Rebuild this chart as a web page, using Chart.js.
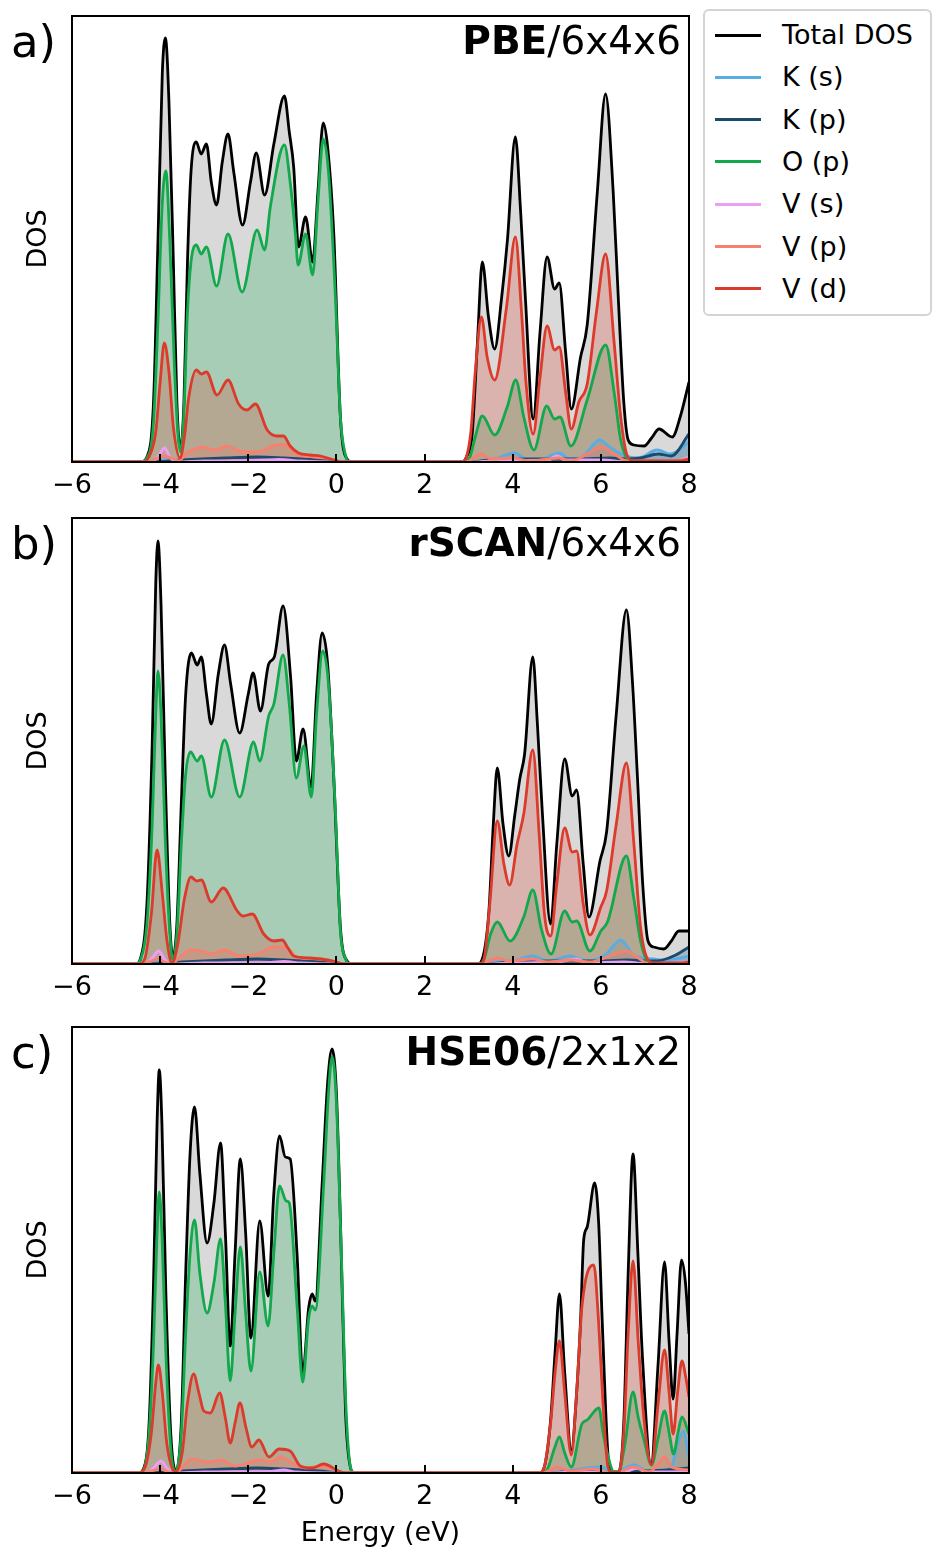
<!DOCTYPE html>
<html>
<head>
<meta charset="utf-8">
<script src="https://cdn.jsdelivr.net/npm/chart.js@4.4.1/dist/chart.umd.min.js"></script>
<style>
  body { margin: 0; background: #fff; width: 932px; height: 1551px; position: relative; overflow: hidden;
         font-family: 'DejaVu Sans', sans-serif; }
  canvas.panel { position: absolute; left: 0; }
  #legend { position: absolute; left: 703px; top: 9px; width: 229px; height: 307px; box-sizing: border-box;
            border: 2px solid #d4d4d4; border-radius: 6px; background: #fff; }
  .handle { position: absolute; left: 10px; width: 46px; height: 3px; }
  .ltext { position: absolute; left: 77px; height: 32px; line-height: 32px; font-size: 27px; color: #000; white-space: nowrap; }
</style>
</head>
<body>
<canvas id="pbe" class="panel" width="700" height="500" style="top:0px"></canvas>
<canvas id="scan" class="panel" width="700" height="500" style="top:502px"></canvas>
<canvas id="hse" class="panel" width="700" height="540" style="top:1011px"></canvas>
<div id="legend"></div>

<script>
// 系列名と色（凡例の順番）
const seriesNames = ['Total DOS', 'K (s)', 'K (p)', 'O (p)', 'V (s)', 'V (p)', 'V (d)'];
const seriesColors = ['#000000', '#5aade2', '#1b4a6b', '#12a84c', '#ee9ef6', '#f8806f', '#dc3b2b'];
const xTicks = [-6, -4, -2, 0, 2, 4, 6, 8];

// ---- a) PBE/6x4x6  [energy (eV), DOS] ----
const pbeTotal = [[-6,0],[-4.45,0],[-4.3,0.5],[-4.15,6],[-4.05,22],[-3.95,39],[-3.88,42.4],[-3.8,36],[-3.7,20],[-3.62,6],[-3.54,1.3],[-3.46,6],[-3.38,20],[-3.3,29],[-3.18,32.0],[-3.07,30.8],[-2.95,31.8],[-2.84,28],[-2.72,25.7],[-2.59,30],[-2.46,32.8],[-2.33,29],[-2.13,23.7],[-1.95,28],[-1.82,30.9],[-1.63,26.7],[-1.42,31.8],[-1.18,36.6],[-1.07,33],[-0.97,29.5],[-0.86,21.5],[-0.70,24.5],[-0.54,20.0],[-0.42,27],[-0.30,33.9],[-0.2,31.5],[-0.06,22.8],[0.09,4.5],[0.24,0.3],[0.35,0],
  [2.85,0],[2.95,0.5],[3.08,2.8],[3.2,12],[3.31,20.0],[3.45,14.5],[3.59,11.3],[3.75,16.5],[3.88,22.2],[4.06,32.5],[4.18,25],[4.29,16.2],[4.465,4.3],[4.62,13],[4.78,20.5],[4.95,17.3],[5.055,17.9],[5.2,11],[5.33,5.3],[5.54,10.5],[5.69,13.7],[5.92,27],[6.107,36.8],[6.28,27],[6.4,16],[6.52,6],[6.62,2.2],[6.75,1.7],[6.98,1.6],[7.15,2.4],[7.32,3.3],[7.62,2.5],[7.8,4.5],[8.0,8.0]];
const pbeKs = [[-6,0],[-4.2,0],[-3.9,0.2],[-3.5,0],[-2,0.1],[-1,0.15],[0,0],
  [3.0,0],[3.5,0.2],[4.05,0.9],[4.3,0.3],[4.6,0.2],[5.05,0.9],[5.3,0.3],[5.6,0.6],[5.97,2.2],[6.2,1.5],[6.51,0.7],[6.85,0.4],[7.28,1.2],[7.58,0.8],[8,2.0]];
const pbeKp = [[-6,0],[-4.2,0],[-3.5,0.2],[-2.5,0.4],[-1.8,0.5],[-1.2,0.4],[-0.4,0.2],[0.2,0],
  [3.0,0],[3.5,0.2],[4.5,0.3],[5.5,0.3],[6.2,0.4],[6.6,0.3],[6.9,0.4],[7.3,0.8],[7.6,0.6],[8,2.8]];
const pbeOp = [[-6,0],[-4.45,0],[-4.3,0.4],[-4.15,4],[-4.05,14],[-3.95,26],[-3.87,29.1],[-3.78,22],[-3.68,10],[-3.6,3],[-3.54,1.0],[-3.46,5],[-3.38,15],[-3.3,20],[-3.18,21.7],[-3.07,20.8],[-2.95,21.5],[-2.72,17.6],[-2.46,22.8],[-2.14,17.0],[-1.80,23.2],[-1.63,21.2],[-1.50,25.5],[-1.18,31.7],[-1.05,28],[-0.93,22.8],[-0.87,19.7],[-0.70,22.8],[-0.54,18.7],[-0.42,26],[-0.30,32.3],[-0.18,29],[-0.02,16.2],[0.09,4.5],[0.2,0.8],[0.3,0],
  [2.9,0],[3.03,0.5],[3.15,2.5],[3.31,4.6],[3.59,2.7],[3.875,5.5],[4.07,8.2],[4.25,4.5],[4.48,1.2],[4.77,5.6],[4.95,4.3],[5.07,4.5],[5.32,1.6],[5.69,6.2],[6.11,11.7],[6.3,7],[6.45,2.2],[6.6,0.3],[6.7,0],[8,0]];
const pbeVs = [[-6,0],[-4.2,0],[-4.05,0.5],[-3.9,1.4],[-3.78,0.5],[-3.65,0],[-3,0.1],[-1.8,0.15],[-1.3,0.25],[-0.8,0.1],[0,0],
  [3.1,0],[3.5,0.1],[4.0,0.15],[4.8,0.2],[5.0,0.6],[5.2,0.2],[6,0.2],[6.6,0],[7.7,0.1],[8,0.5]];
const pbeVp = [[-6,0],[-4.3,0],[-4.1,0.3],[-3.9,0.6],[-3.7,0.3],[-3.58,0.1],[-3.4,0.9],[-3.2,1.3],[-3.05,1.5],[-2.75,1.2],[-2.5,1.6],[-2.2,1.1],[-1.8,1.0],[-1.35,1.7],[-1.15,1.7],[-0.9,0.8],[-0.5,0.5],[-0.1,0.3],[0.15,0],
  [2.95,0],[3.1,0.4],[3.29,0.8],[3.5,0.3],[4.0,0.4],[4.4,0.1],[4.8,0.3],[5.05,0.4],[5.33,0.1],[5.69,0.8],[6.03,1.5],[6.3,0.8],[6.6,0.1],[7.5,0.1],[8,0.3]];
const pbeVd = [[-6,0],[-4.4,0],[-4.27,0.4],[-4.1,3],[-4.0,8],[-3.905,11.9],[-3.8,9],[-3.7,3.5],[-3.55,0.4],[-3.45,2.5],[-3.35,6.5],[-3.18,9.2],[-3.065,8.8],[-2.95,9.0],[-2.71,6.7],[-2.46,8.2],[-2.22,5.8],[-2.03,5.2],[-1.84,5.8],[-1.57,3.2],[-1.35,2.6],[-1.2,2.6],[-1.05,1.6],[-0.86,0.9],[-0.6,0.7],[-0.36,0.6],[-0.06,0.2],[0.1,0],
  [2.85,0],[2.95,0.5],[3.05,3],[3.15,9],[3.29,14.5],[3.42,10.5],[3.59,8.2],[3.86,15.5],[4.06,22.5],[4.2,15],[4.3,8],[4.465,2.8],[4.62,8.5],[4.78,13.6],[4.95,11.2],[5.055,11.5],[5.2,7],[5.33,3.3],[5.5,6],[5.69,7.8],[5.9,15],[6.107,20.8],[6.3,12],[6.45,4.5],[6.60,0.6],[6.75,0.1],[7.8,0.1],[8,0.3]];

// ---- b) rSCAN/6x4x6 ----
const scanTotal = [[-6,0],[-4.55,0],[-4.45,0.5],[-4.3,6],[-4.18,22],[-4.1,38],[-4.05,42.3],[-3.98,36],[-3.88,18],[-3.78,4],[-3.71,0.7],[-3.62,4],[-3.52,16],[-3.42,27],[-3.29,31.1],[-3.16,29.9],[-3.065,30.7],[-2.95,27],[-2.84,24.0],[-2.68,29],[-2.54,31.9],[-2.4,28],[-2.195,23.1],[-2.0,27],[-1.89,29.1],[-1.725,25.3],[-1.537,30.0],[-1.41,30.7],[-1.21,35.8],[-1.04,28.7],[-0.91,20.3],[-0.756,23.5],[-0.575,17.7],[-0.45,27],[-0.325,33.1],[-0.2,30],[-0.061,18.7],[0.09,3.7],[0.24,0.3],[0.35,0],
  [3.2,0],[3.31,0.5],[3.46,5.3],[3.56,14],[3.65,19.6],[3.78,14],[3.91,10.8],[4.05,15],[4.16,18.5],[4.27,21.0],[4.456,30.7],[4.56,24],[4.67,15.3],[4.86,4.0],[5.0,12],[5.18,20.5],[5.35,16.8],[5.45,17.4],[5.6,10],[5.73,4.7],[5.98,10.3],[6.13,13.2],[6.35,25],[6.58,35.4],[6.72,28],[6.83,18.7],[6.95,8],[7.07,2.3],[7.2,1.7],[7.43,1.5],[7.6,2.3],[7.77,3.3],[8,3.3]];
const scanKs = [[-6,0],[-4.3,0],[-4.05,0.2],[-3.7,0],[-2,0.1],[-1,0.15],[0,0],
  [3.3,0],[3.7,0.2],[4.0,0.3],[4.46,0.8],[4.8,0.3],[5.3,0.8],[5.7,0.3],[6.1,0.9],[6.45,2.4],[6.75,0.9],[7.2,0.5],[7.45,0.4],[7.8,0.6],[8,0.8]];
const scanKp = [[-6,0],[-4.3,0],[-3.5,0.2],[-2.5,0.4],[-1.8,0.5],[-1.2,0.4],[-0.4,0.2],[0.2,0],
  [3.3,0],[4,0.2],[5,0.3],[6,0.3],[6.6,0.4],[7.1,0.3],[7.4,0.4],[7.7,0.9],[8,1.7]];
const scanOp = [[-6,0],[-4.55,0],[-4.45,0.4],[-4.3,4],[-4.18,14],[-4.1,25],[-4.05,29.3],[-3.98,25],[-3.88,12],[-3.78,3],[-3.71,0.4],[-3.62,3],[-3.52,12],[-3.42,19],[-3.31,21.2],[-3.16,20.3],[-3.065,20.8],[-2.84,16.7],[-2.54,22.4],[-2.195,16.7],[-1.88,22.2],[-1.74,20.3],[-1.537,24.8],[-1.42,26.0],[-1.21,30.9],[-1.07,26],[-0.91,18.6],[-0.74,21.8],[-0.57,16.7],[-0.45,25],[-0.31,31.3],[-0.18,28],[-0.023,15.3],[0.09,3.3],[0.2,0.6],[0.3,0],
  [3.25,0],[3.35,0.5],[3.5,3],[3.65,4.2],[3.94,2.3],[4.25,4.7],[4.456,7.4],[4.65,3.5],[4.87,1.0],[5.18,5.3],[5.35,4.2],[5.45,4.3],[5.75,1.3],[6.0,3.3],[6.15,4.2],[6.58,10.8],[6.75,6.5],[6.9,2.3],[7.05,0.3],[7.15,0],[8,0]];
const scanVs = [[-6,0],[-4.35,0],[-4.2,0.5],[-4.03,1.3],[-3.9,0.5],[-3.75,0],[-3,0.1],[-1.5,0.15],[-1.2,0.25],[-0.8,0.1],[0,0],
  [3.4,0],[4.0,0.1],[5.0,0.2],[5.45,0.5],[5.7,0.1],[6.5,0.2],[7.1,0],[8,0.2]];
const scanVp = [[-6,0],[-4.45,0],[-4.2,0.3],[-4.05,0.5],[-3.9,0.2],[-3.73,0.1],[-3.5,0.9],[-3.31,1.4],[-3.065,1.3],[-2.84,1.0],[-2.54,1.4],[-2.2,0.8],[-1.8,1.0],[-1.42,1.7],[-1.15,1.7],[-0.9,0.7],[-0.36,0.5],[0,0.2],[0.15,0],
  [3.3,0],[3.45,0.3],[3.65,0.6],[3.9,0.3],[4.45,0.5],[4.8,0.2],[5.3,0.4],[5.75,0.2],[6.2,0.8],[6.58,1.3],[6.85,0.6],[7.1,0],[8,0.1]];
const scanVd = [[-6,0],[-4.5,0],[-4.35,0.5],[-4.2,5],[-4.07,11.4],[-3.95,7],[-3.85,2.5],[-3.73,0.1],[-3.6,2],[-3.45,6.5],[-3.30,8.7],[-3.17,8.3],[-3.065,8.4],[-2.84,6.2],[-2.57,7.6],[-2.25,5.3],[-2.12,4.8],[-1.91,5.0],[-1.65,3.0],[-1.42,2.3],[-1.23,2.4],[-1.1,1.6],[-0.97,0.8],[-0.6,0.6],[-0.36,0.5],[0.0,0.2],[0.15,0],
  [3.25,0],[3.35,0.5],[3.48,6],[3.65,14.3],[3.8,10],[3.93,7.9],[4.1,12],[4.25,15.0],[4.456,21.4],[4.6,13],[4.72,5],[4.86,2.8],[5.0,8],[5.18,13.6],[5.35,11.2],[5.45,11.3],[5.6,6],[5.75,2.9],[6.0,5.7],[6.13,7.3],[6.35,14],[6.58,20.1],[6.75,12],[6.9,3.7],[7.07,0.4],[7.2,0.1],[7.8,0.1],[8,0.2]];

// ---- c) HSE06/2x1x2 ----
const hseTotal = [[-6,0],[-4.5,0],[-4.37,0.5],[-4.25,5],[-4.15,19],[-4.07,35],[-4.02,40.3],[-3.96,35],[-3.87,18],[-3.76,4],[-3.64,0.2],[-3.52,5],[-3.42,20],[-3.32,32],[-3.22,36.6],[-3.1,30],[-2.935,23.0],[-2.78,27],[-2.63,33.0],[-2.52,24],[-2.41,12.7],[-2.3,22],[-2.18,31.4],[-2.06,24],[-1.94,13.5],[-1.74,25.2],[-1.55,17.7],[-1.42,28],[-1.29,33.7],[-1.16,31.6],[-1.05,31.4],[-0.89,21.6],[-0.765,9.9],[-0.63,16.5],[-0.55,17.9],[-0.48,17.2],[-0.325,28.8],[-0.2,39],[-0.098,42.4],[0.0,38],[0.09,25.3],[0.205,6.3],[0.32,0.5],[0.4,0],
  [4.6,0],[4.71,0.5],[4.86,5.3],[4.96,12],[5.06,17.9],[5.18,10],[5.33,2.3],[5.45,8],[5.54,15.3],[5.61,23.3],[5.69,24.6],[5.86,29.0],[5.95,25],[6.03,15.3],[6.16,1.9],[6.25,0.1],[6.4,0.1],[6.52,5],[6.62,20],[6.73,31.9],[6.84,22],[6.94,11.9],[7.14,0.9],[7.3,11],[7.445,21.1],[7.55,13],[7.64,7.4],[7.73,14],[7.83,21.3],[7.92,19],[8,13.9]];
const hseKs = [[-6,0],[-4.3,0],[-4.0,0.2],[-3.7,0],[-2,0.1],[-1,0.15],[0,0],
  [4.8,0],[5.2,0.2],[6.0,0.6],[6.3,0],[6.75,0.8],[7.1,0.1],[7.45,0.3],[7.6,0.6],[7.75,3],[7.88,4.2],[7.96,2.5],[8,1.5]];
const hseKp = [[-6,0],[-4.3,0],[-3.5,0.2],[-2.5,0.4],[-1.8,0.5],[-1.2,0.4],[-0.4,0.2],[0.2,0],
  [4.8,0],[5.5,0.2],[6.2,0],[6.5,0.1],[7,0.2],[7.5,0.3],[8,0.5]];
const hseOp = [[-6,0],[-4.5,0],[-4.37,0.4],[-4.25,4],[-4.15,13],[-4.07,24],[-4.02,28.1],[-3.96,24],[-3.87,12],[-3.76,2.5],[-3.65,0.1],[-3.52,4],[-3.42,14],[-3.32,22],[-3.22,25.3],[-3.1,20],[-2.935,16.0],[-2.78,19],[-2.63,23.4],[-2.52,17],[-2.41,9.2],[-2.3,16],[-2.18,22.6],[-2.06,16],[-1.94,10.2],[-1.74,20.1],[-1.55,14.7],[-1.42,22],[-1.29,28.7],[-1.14,27.2],[-1.07,27.0],[-0.89,16.5],[-0.765,9.1],[-0.63,15.5],[-0.55,16.7],[-0.48,16.3],[-0.29,28.8],[-0.18,38],[-0.098,41.6],[0.0,37],[0.1,23.6],[0.22,6.3],[0.33,0.4],[0.42,0],
  [4.7,0],[4.8,0.5],[4.95,2.5],[5.06,3.6],[5.18,2],[5.33,0.6],[5.57,4.9],[5.69,5.3],[5.955,6.5],[6.05,4],[6.15,1.9],[6.3,0.1],[6.4,0.1],[6.55,3],[6.73,8.1],[6.85,5.5],[6.98,3.3],[7.15,0.8],[7.3,3.5],[7.445,6.2],[7.55,4],[7.65,1.9],[7.75,4],[7.84,5.6],[8,3.9]];
const hseVs = [[-6,0],[-4.3,0],[-4.15,0.5],[-3.98,1.2],[-3.85,0.5],[-3.7,0],[-3,0.1],[-1.5,0.15],[-1.2,0.3],[-0.9,0.1],[0,0],
  [4.8,0],[5.5,0.1],[6.2,0],[6.6,0.2],[6.83,0.5],[7.0,0.1],[8,0.1]];
const hseVp = [[-6,0],[-4.4,0],[-4.2,0.2],[-4.0,0.4],[-3.8,0.1],[-3.65,0],[-3.45,0.8],[-3.3,1.4],[-2.9,1.1],[-2.63,1.3],[-2.3,0.7],[-1.73,1.3],[-1.5,1.1],[-1.27,1.6],[-1.05,1.1],[-0.7,0.5],[-0.29,0.7],[0.1,0.1],[0.25,0],
  [4.7,0],[4.85,0.3],[5.0,0.6],[5.3,0.2],[5.84,0.4],[6.2,0],[6.45,0.1],[6.73,0.6],[7.1,0.1],[7.3,0.9],[7.445,1.6],[7.6,0.6],[8,0.3]];
const hseVd = [[-6,0],[-4.5,0],[-4.35,0.5],[-4.2,4],[-4.1,9],[-4.04,10.8],[-3.95,8],[-3.85,3],[-3.65,0.1],[-3.5,2],[-3.38,7],[-3.24,9.9],[-3.12,8],[-3.01,6.2],[-2.86,6.0],[-2.65,8.0],[-2.52,5.5],[-2.41,3.0],[-2.3,5],[-2.19,7.0],[-2.05,4.5],[-1.92,2.6],[-1.76,3.3],[-1.53,1.6],[-1.3,2.4],[-1.05,2.2],[-0.82,0.7],[-0.55,0.5],[-0.29,0.9],[0.05,0.2],[0.2,0],
  [4.6,0],[4.71,0.5],[4.86,5],[4.96,10],[5.06,13.2],[5.18,8],[5.33,1.8],[5.45,8],[5.57,16.6],[5.84,20.8],[5.95,15],[6.05,6.9],[6.16,0.6],[6.25,0.05],[6.4,0.05],[6.52,4],[6.62,14],[6.73,21.2],[6.85,13],[6.98,5.3],[7.15,0.8],[7.3,7],[7.445,12.3],[7.55,8],[7.64,3.9],[7.74,8],[7.84,11.2],[7.93,9.5],[8,7.6]];

const FONT = 'DejaVu Sans';

function rgba(hex, a) {
  const n = parseInt(hex.slice(1), 16);
  return `rgba(${(n >> 16) & 255}, ${(n >> 8) & 255}, ${n & 255}, ${a})`;
}

/** 枠線・内向き目盛り・パネル見出しを描く */
const framePlugin = {
  id: 'frame',
  afterDatasetsDraw(chart, args, opts) {
    const { ctx, chartArea: a, scales: { x } } = chart;
    ctx.save();
    ctx.strokeStyle = '#000';
    ctx.lineWidth = 2;
    x.ticks.forEach(t => {
      const px = Math.round(x.getPixelForValue(t.value));
      ctx.beginPath();
      ctx.moveTo(px, a.bottom);
      ctx.lineTo(px, a.bottom - 8);
      ctx.stroke();
    });
    ctx.strokeRect(a.left, a.top, a.right - a.left, a.bottom - a.top);

    ctx.fillStyle = '#000';
    ctx.textBaseline = 'alphabetic';
    ctx.textAlign = 'right';
    ctx.font = `39px "${FONT}"`;
    const restW = ctx.measureText(opts.rest).width;
    ctx.fillText(opts.rest, a.right - 8, a.top + 38);
    ctx.font = `bold 39px "${FONT}"`;
    ctx.fillText(opts.bold, a.right - 8 - restW, a.top + 38);

    ctx.textAlign = 'left';
    ctx.font = `45px "${FONT}"`;
    ctx.fillText(opts.letter, 11, a.top + 41);
    ctx.restore();
  }
};

function makePanel(canvasId, series, head, xTitle) {
  const canvas = document.getElementById(canvasId);
  const xh = canvas.height - 16 - 446;
  const datasets = series.map((data, i) => ({
    label: seriesNames[i],
    data,
    borderColor: seriesColors[i],
    backgroundColor: rgba(seriesColors[i], i === 0 ? 0.15 : 0.25),
    fill: 'origin',
    borderWidth: 2.8,
    pointRadius: 0,
    cubicInterpolationMode: 'monotone',
    order: series.length - i
  }));

  return new Chart(canvas.getContext('2d'), {
    type: 'line',
    data: { datasets },
    options: {
      responsive: false,
      animation: false,
      events: [],
      layout: { padding: { top: 16, right: 11, bottom: 0, left: 0 } },
      plugins: {
        legend: { display: false },
        tooltip: { enabled: false },
        filler: { drawTime: 'beforeDatasetsDraw' },
        frame: head
      },
      scales: {
        x: {
          type: 'linear', min: -6, max: 8,
          afterFit: s => { s.height = xh; },
          afterBuildTicks: s => { s.ticks = xTicks.map(v => ({ value: v })); },
          grid: { display: false },
          border: { display: false },
          ticks: {
            autoSkip: false, maxRotation: 0, padding: 0, color: '#000',
            font: { family: FONT, size: 27 },
            callback: v => String(v).replace('-', '\u2212')
          },
          title: {
            display: !!xTitle, text: xTitle || '', color: '#000',
            font: { family: FONT, size: 27 }, padding: { top: 0, bottom: 1 }
          }
        },
        y: {
          min: 0, max: 44.6,
          afterFit: s => { s.width = 72; },
          grid: { display: false },
          border: { display: false },
          ticks: { display: false },
          title: {
            display: true, text: 'DOS', color: '#000',
            font: { family: FONT, size: 27 }, padding: { top: 23, bottom: 0 }
          }
        }
      }
    },
    plugins: [framePlugin]
  });
}

makePanel('pbe', [pbeTotal, pbeKs, pbeKp, pbeOp, pbeVs, pbeVp, pbeVd], { letter: 'a)', bold: 'PBE', rest: '/6x4x6' });
makePanel('scan', [scanTotal, scanKs, scanKp, scanOp, scanVs, scanVp, scanVd], { letter: 'b)', bold: 'rSCAN', rest: '/6x4x6' });
makePanel('hse', [hseTotal, hseKs, hseKp, hseOp, hseVs, hseVp, hseVd], { letter: 'c)', bold: 'HSE06', rest: '/2x1x2' }, 'Energy (eV)');

// 凡例（HTML）
const legend = document.getElementById('legend');
seriesNames.forEach((name, i) => {
  const cy = 24 + 42.3 * i;
  const h = document.createElement('div');
  h.className = 'handle';
  h.style.top = (cy - 1.5) + 'px';
  h.style.background = seriesColors[i];
  legend.appendChild(h);
  const t = document.createElement('div');
  t.className = 'ltext';
  t.style.top = (cy - 16) + 'px';
  t.textContent = name;
  legend.appendChild(t);
});
</script>
</body>
</html>
